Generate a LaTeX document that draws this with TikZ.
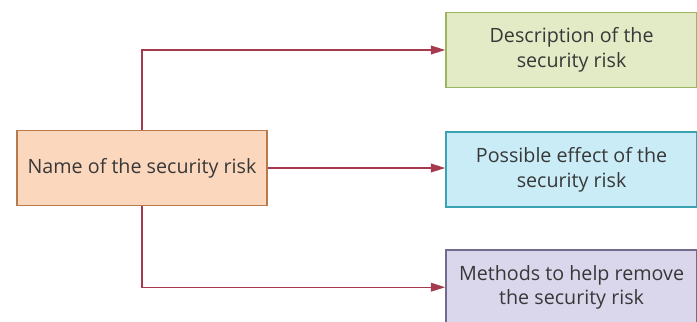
\documentclass[tikz,border=0pt]{standalone}
\usepackage{fontspec}
\setmainfont{Open Sans}
\usetikzlibrary{arrows.meta,positioning}
\definecolor{riskfill}{HTML}{FBD7BD}
\definecolor{riskline}{HTML}{B87A4B}
\definecolor{descfill}{HTML}{E3EBC6}
\definecolor{descline}{HTML}{9BB45E}
\definecolor{efffill}{HTML}{C9ECF6}
\definecolor{effline}{HTML}{3AA3B4}
\definecolor{methfill}{HTML}{DAD6EC}
\definecolor{methline}{HTML}{716C8C}
\definecolor{linkred}{HTML}{A53A4E}
\tikzset{
  box/.style = {draw, line width=1.3pt, minimum height=1.875cm, align=center,
    font=\fontsize{14}{17.5}\selectfont, text=black!78},
  riskbox/.style = {box, fill=riskfill, draw=riskline, minimum width=6.25cm},
  outbox/.style = {box, minimum width=6.275cm},
  link/.style = {draw=linkred, line width=0.9pt, -{Triangle[length=3.6mm,width=2.2mm]}}
}
\begin{document}
\begin{tikzpicture}
  \useasboundingbox (0,0) rectangle (17.425,-8.05);
  % source box
  \node[riskbox] (risk) at (3.55,-4.2) {Name of the security risk};
  % the three outcomes
  \node[outbox, fill=descfill, draw=descline] (desc) at (14.29,-1.25)
    {Description of the\\security risk};
  \node[outbox, fill=efffill, draw=effline] (effect) at (14.29,-4.24)
    {Possible effect of the\\security risk};
  \node[outbox, fill=methfill, draw=methline] (methods) at (14.29,-7.18)
    {Methods to help remove\\the security risk};
  % connectors
  \draw[link] (risk.north) |- (desc.west);
  \draw[link] (risk.east) -- (risk.east -| effect.west);
  \draw[link] (risk.south) |- (methods.west);
\end{tikzpicture}
\end{document}
